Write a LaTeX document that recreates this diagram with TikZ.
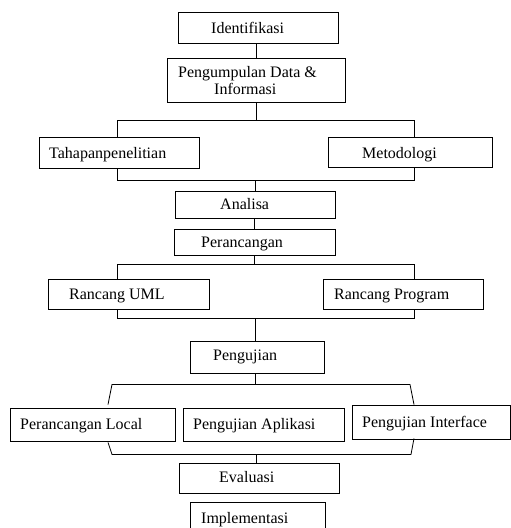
\documentclass[tikz,border=0pt]{standalone}
\usepackage{fontspec}
\setmainfont{Liberation Serif}
\usetikzlibrary{calc}
\begin{document}
\begin{tikzpicture}[x=1pt,y=-1pt,
  box/.style={draw, line width=0.9pt, inner sep=0pt, anchor=center},
  lbl/.style={anchor=base west, inner sep=0pt, font=\fontsize{16}{18}\selectfont},
  conn/.style={line width=0.8pt}]
\useasboundingbox (0,0) rectangle (511,528);
% boxes
\node[box, minimum width=160pt, minimum height=31pt] (id) at (258,27.5) {};
\node[box, minimum width=178pt, minimum height=44pt] (pd) at (256,80) {};
\node[box, minimum width=160pt, minimum height=31pt] (tp) at (119,152.5) {};
\node[box, minimum width=164pt, minimum height=30pt] (mt) at (410,152) {};
\node[box, minimum width=160pt, minimum height=27pt] (an) at (255,204.5) {};
\node[box, minimum width=161pt, minimum height=26pt] (pr) at (254.5,242) {};
\node[box, minimum width=161pt, minimum height=30pt] (ru) at (128.5,294) {};
\node[box, minimum width=160pt, minimum height=30pt] (rp) at (403,294) {};
\node[box, minimum width=134pt, minimum height=32pt] (pg) at (257,357) {};
\node[box, minimum width=165pt, minimum height=33pt] (pl) at (92.5,424.5) {};
\node[box, minimum width=161pt, minimum height=33pt] (pa) at (263.5,424.5) {};
\node[box, minimum width=158pt, minimum height=34pt] (pi) at (431,422) {};
\node[box, minimum width=160pt, minimum height=30pt] (ev) at (259,478) {};
\node[box, minimum width=135pt, minimum height=30pt] (im) at (257.5,517) {};
% labels
\node[lbl] (tid) at (211,33) {Identifikasi};
\node[lbl] (tpd1) at (178,77) {Pengumpulan Data \&};
\node[lbl] (tpd2) at (214,94) {Informasi};
\node[lbl] (ttp) at (49,158) {Tahapanpenelitian};
\node[lbl] (tmt) at (362,158) {Metodologi};
\node[lbl] (tan) at (220,209) {Analisa};
\node[lbl] (tpr) at (201,247) {Perancangan};
\node[lbl] (tru) at (69,299) {Rancang UML};
\node[lbl] (trp) at (334,299) {Rancang Program};
\node[lbl] (tpg) at (213,360) {Pengujian};
\node[lbl] (tpl) at (20,429) {Perancangan Local};
\node[lbl] (tpa) at (193,429) {Pengujian Aplikasi};
\node[lbl] (tpi) at (362,427) {Pengujian Interface};
\node[lbl] (tev) at (219,482) {Evaluasi};
\node[lbl] (tim) at (201,523) {Implementasi};
% connectors
\draw[conn] (pd.north |- id.south) -- (pd.north);
\draw[conn] (pd.south) -- ++(0,18) coordinate (j1);
\coordinate (tpn) at ([xshift=-2pt]tp.north);
\coordinate (mtn) at ([xshift=4pt]mt.north);
\draw[conn] (tpn) |- (mtn |- j1) -- (mtn);
\coordinate (tps) at ([xshift=-2pt]tp.south);
\coordinate (mts) at ([xshift=4pt]mt.south);
\draw[conn] (tps) -- ++(0,12) coordinate (j2) -| (mts);
\draw[conn] (an.north) -- (an.north |- j2);
\draw[conn] (pr.north |- an.south) -- (pr.north);
\draw[conn] (pr.south) -- ++(0,9) coordinate (j3);
\coordinate (run) at ([xshift=-11.5pt]ru.north);
\coordinate (rpn) at ([xshift=11pt]rp.north);
\draw[conn] (run) |- (rpn |- j3) -- (rpn);
\coordinate (rus) at ([xshift=-11.5pt]ru.south);
\coordinate (rps) at ([xshift=11pt]rp.south);
\draw[conn] (rus) -- ++(0,9) coordinate (j4) -| (rps);
\coordinate (pgn) at ([xshift=-2pt]pg.north);
\draw[conn] (pgn |- j4) -- (pgn);
\draw[conn] ([xshift=-2pt]pg.south) -- ++(0,11) coordinate (j5);
\coordinate (a1) at ([shift={(15.5,-3)}]pl.north);
\coordinate (a4) at ([shift={(-17,0)}]pi.north);
\coordinate (a2) at ($(a1 |- j5)+(4,0)$);
\coordinate (a3) at ($(a4 |- j5)+(-4,0)$);
\draw[conn] (a1) -- (a2) -- (a3) -- (a4);
\coordinate (a5) at ([shift={(15.5,1)}]pl.south);
\coordinate (a8) at ([shift={(-17,-1)}]pi.south);
\draw[conn] (a5) -- ++(4,12) coordinate (a6) -- ($(a8 |- a6)+(-3,0)$) coordinate (a7) -- (a8);
\coordinate (evn) at ([xshift=-3pt]ev.north);
\draw[conn] (evn |- a6) -- (evn);
\end{tikzpicture}
\end{document}
